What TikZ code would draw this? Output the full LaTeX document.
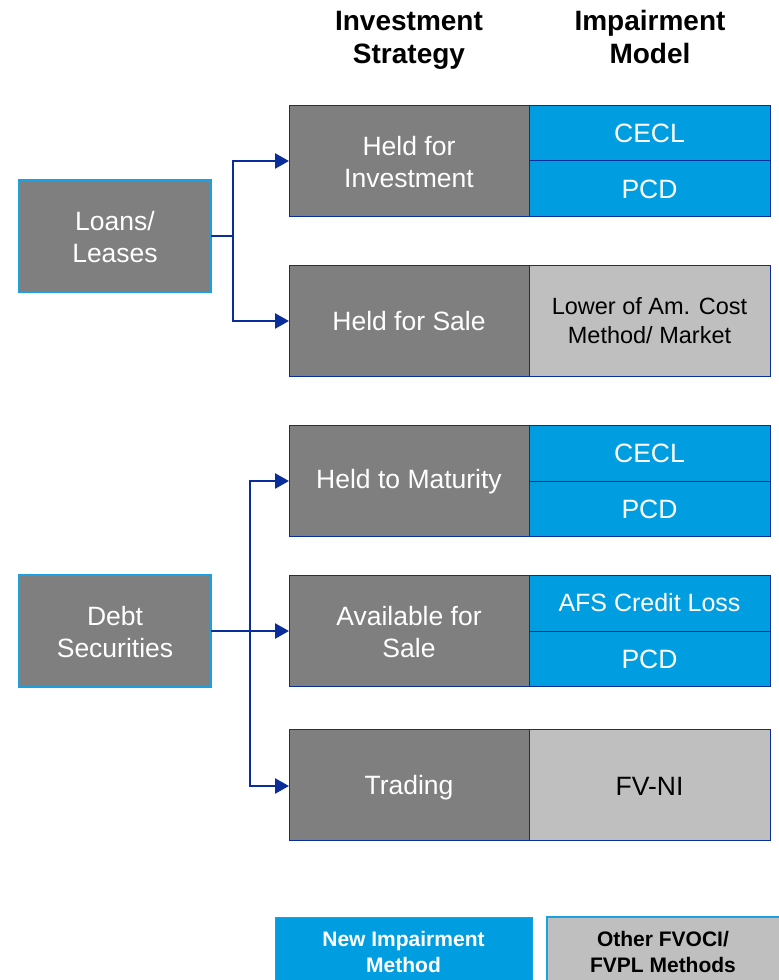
\documentclass[tikz,border=0pt]{standalone}
\usepackage{fontspec}
\setmainfont{Liberation Sans}
\usetikzlibrary{arrows.meta}
\definecolor{bfill}{HTML}{009EE0}
\definecolor{gfill}{HTML}{7F7F7F}
\definecolor{lgfill}{HTML}{BFBFBF}
\definecolor{dblue}{HTML}{0A2D9C}
\definecolor{lblue}{HTML}{1BA1E2}
\begin{document}
\begin{tikzpicture}[x=1pt,y=-1pt,
  txt/.style={font=\fontsize{26.5}{32}\selectfont, align=center, text=white},
  srcbox/.style={draw=lblue, line width=1.5pt, fill=gfill},
  stratbox/.style={draw=dblue, line width=1pt, fill=gfill},
  newbox/.style={draw=dblue, line width=1pt, fill=bfill},
  othbox/.style={draw=dblue, line width=1pt, fill=lgfill},
  conn/.style={draw=dblue, line width=2.6pt},
  arr/.style={conn, -{Triangle[length=14pt,width=15pt]}},
  hdr/.style={font=\bfseries\fontsize{28}{33}\selectfont, align=center}
]
\useasboundingbox (0,0) rectangle (779,980);
% headers
\node[hdr] (h1) at (409,40) {\strut Investment\\\strut Strategy};
\node[hdr] (h2) at (650,40) {\strut Impairment\\\strut Model};
% sources
\path[srcbox] (19,180) rectangle (211,292);
\node[txt] (loans) at (115,237) {Loans/\\Leases};
\coordinate (loansR) at (211,236);
\path[srcbox] (19,575) rectangle (211,687);
\node[txt] (debt) at (115,632) {Debt\\Securities};
\coordinate (debtR) at (211,631);
% strategies
\path[stratbox] (289,105) rectangle (529,216);
\node[txt] (hfi) at (409,162) {Held for\\Investment};
\path[stratbox] (289,265) rectangle (529,376);
\node[txt] (hfs) at (409,321) {Held for Sale};
\path[stratbox] (289,425) rectangle (529,536);
\node[txt] (htm) at (409,482) {Held to Maturity};
\path[stratbox] (289,575) rectangle (529,686);
\node[txt] (afs) at (409,632) {Available for\\Sale};
\path[stratbox] (289,729) rectangle (529,840);
\node[txt] (trd) at (409,788) {Trading};
% models
\path[newbox] (529,105) rectangle (770,160);
\node[txt] (m1) at (649.5,133) {CECL};
\path[newbox] (529,160) rectangle (770,216);
\node[txt] (m2) at (649.5,189) {PCD};
\path[othbox] (529,265) rectangle (770,376);
\node[font=\fontsize{23.5}{29}\selectfont, align=center, text=black] (m3) at (649.5,321) {Lower of Am. Cost\\Method/ Market};
\path[newbox] (529,425) rectangle (770,481);
\node[txt] (m4) at (649.5,453) {CECL};
\path[newbox] (529,481) rectangle (770,536);
\node[txt] (m5) at (649.5,509) {PCD};
\path[newbox] (529,575) rectangle (770,631);
\node[txt, font=\fontsize{25}{30}\selectfont] (m6) at (649.5,603) {AFS Credit Loss};
\path[newbox] (529,631) rectangle (770,686);
\node[txt] (m7) at (649.5,659) {PCD};
\path[othbox] (529,729) rectangle (770,840);
\node[txt, text=black] (m8) at (649.5,786) {FV-NI};
% connectors
\coordinate (j1) at (233,236);
\draw[conn] (loansR) -- (j1);
\draw[arr] (j1) |- (289,161);
\draw[arr] (j1) |- (289,321);
\coordinate (j2) at (250,631);
\draw[arr] (debtR) -- (289,631);
\draw[arr] (j2) |- (289,481);
\draw[arr] (j2) |- (289,786);
% legend
\path[draw=lblue, line width=0.8pt, fill=bfill] (275,917) rectangle (532,985);
\node[font=\bfseries\fontsize{21}{26}\selectfont, text=white, align=center] (l1) at (403.5,952) {New Impairment\\Method};
\path[draw=lblue, line width=1.2pt, fill=lgfill] (547,917) rectangle (782,985);
\node[font=\bfseries\fontsize{21}{26}\selectfont, text=black, align=center] (l2) at (663,952) {Other FVOCI/\\FVPL Methods};
\end{tikzpicture}
\end{document}
